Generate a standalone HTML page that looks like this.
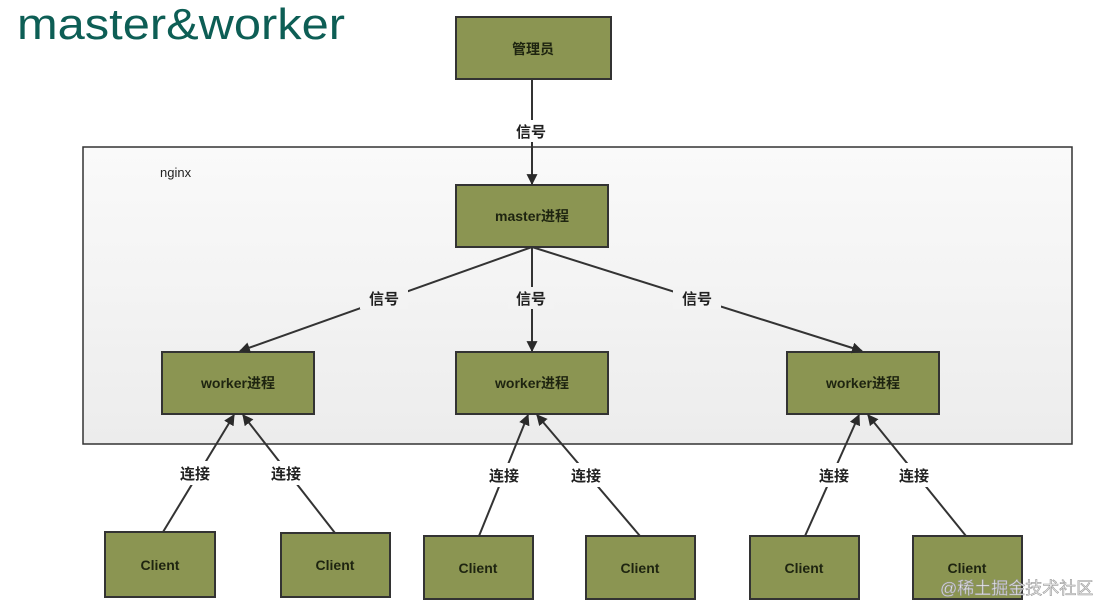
<!DOCTYPE html>
<html><head><meta charset="utf-8">
<style>
html,body{margin:0;padding:0;background:#fff;}
svg{display:block;}
text{font-family:"Liberation Sans","Noto Sans CJK SC",sans-serif;}
</style></head>
<body>
<svg width="1107" height="607" viewBox="0 0 1107 607" xmlns="http://www.w3.org/2000/svg">
<defs>
<marker id="a" viewBox="0 0 10 10" refX="9" refY="5" markerWidth="11" markerHeight="11" markerUnits="userSpaceOnUse" orient="auto">
<path d="M0,0 L10,5 L0,10 Z" fill="#2a2a2a"/></marker>
<linearGradient id="g" x1="0" y1="0" x2="0" y2="1"><stop offset="0" stop-color="#fafafa"/><stop offset="1" stop-color="#ececec"/></linearGradient>
</defs>
<rect width="1107" height="607" fill="#fff"/>
<text x="17" y="39" font-size="44" fill="#0d5e55" textLength="328" lengthAdjust="spacingAndGlyphs" font-family="Liberation Sans,sans-serif">master&amp;worker</text>
<rect x="83" y="147" width="989" height="297" fill="url(#g)" stroke="#333" stroke-width="1.5"/>
<text x="160" y="177" font-size="13" fill="#222">nginx</text>
<g stroke="#333" stroke-width="2" fill="#8b9552">
<rect x="456" y="17" width="155" height="62"/>
<rect x="456" y="185" width="152" height="62"/>
<rect x="162" y="352" width="152" height="62"/>
<rect x="456" y="352" width="152" height="62"/>
<rect x="787" y="352" width="152" height="62"/>
<rect x="105" y="532" width="110" height="65"/>
<rect x="281" y="533" width="109" height="64"/>
<rect x="424" y="536" width="109" height="63"/>
<rect x="586" y="536" width="109" height="63"/>
<rect x="750" y="536" width="109" height="63"/>
<rect x="913" y="536" width="109" height="63"/>
</g>
<g stroke="#333" stroke-width="2" fill="none" marker-end="url(#a)">
<line x1="532" y1="79" x2="532" y2="184"/>
<line x1="532" y1="247" x2="240" y2="351"/>
<line x1="532" y1="247" x2="532" y2="351"/>
<line x1="532" y1="247" x2="862" y2="351"/>
<line x1="163" y1="532" x2="234" y2="415"/>
<line x1="335" y1="533" x2="243" y2="415"/>
<line x1="479" y1="536" x2="528" y2="415"/>
<line x1="640" y1="536" x2="537" y2="415"/>
<line x1="805" y1="536" x2="859" y2="415"/>
<line x1="966" y1="536" x2="868" y2="415"/>
</g>
<g font-size="15" font-weight="bold" fill="#222" text-anchor="middle">
<rect x="508" y="120" width="46" height="22" fill="#fff"/>
<text x="531" y="137">信号</text>
<rect x="360" y="287" width="48" height="22" fill="#f3f3f3"/>
<text x="384" y="304">信号</text>
<rect x="508" y="287" width="46" height="22" fill="#f3f3f3"/>
<text x="531" y="304">信号</text>
<rect x="673" y="287" width="48" height="22" fill="#f3f3f3"/>
<text x="697" y="304">信号</text>
<g fill="#fff"><rect x="170" y="461" width="48" height="24"/><rect x="262" y="461" width="48" height="24"/><rect x="480" y="463" width="48" height="24"/><rect x="562" y="463" width="48" height="24"/><rect x="810" y="463" width="48" height="24"/><rect x="890" y="463" width="48" height="24"/></g>
<text x="195" y="479">连接</text><text x="286" y="479">连接</text>
<text x="504" y="481">连接</text><text x="586" y="481">连接</text>
<text x="834" y="481">连接</text><text x="914" y="481">连接</text>
<g font-size="14" fill="#1e2410">
<text x="533" y="54">管理员</text>
<text x="532" y="221">master进程</text>
<text x="238" y="388">worker进程</text>
<text x="532" y="388">worker进程</text>
<text x="863" y="388">worker进程</text>
<text x="160" y="570">Client</text>
<text x="335" y="570">Client</text>
<text x="478" y="573">Client</text>
<text x="640" y="573">Client</text>
<text x="804" y="573">Client</text>
<text x="967" y="573">Client</text>
</g>
</g>
<text x="940" y="594" font-size="17" fill="#eee" stroke="#999" stroke-width="0.6" font-family="Liberation Serif,Noto Serif CJK SC,serif">@稀土掘金技术社区</text>
</svg>
</body></html>
